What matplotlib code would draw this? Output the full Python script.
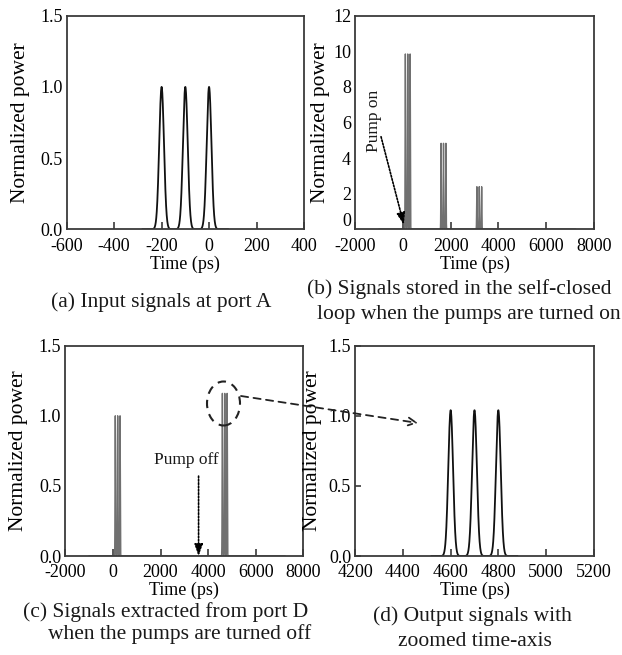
import numpy as np
import matplotlib
matplotlib.use("Agg")
import matplotlib.pyplot as plt
from matplotlib.patches import Ellipse, FancyArrowPatch
from matplotlib.transforms import ScaledTranslation

plt.rcParams['font.family'] = ['Liberation Serif', 'DejaVu Serif']
plt.rcParams['text.color'] = '#1a1a1a'
plt.rcParams['axes.unicode_minus'] = False

# pulse centres (ps) and peak powers for each panel
pulse_width = 10.0
t_a = [-200, -100, 0]
amp_a = [1.0, 1.0, 1.0]
t_b = [100, 200, 300, 1600, 1700, 1800, 3100, 3200, 3300]
amp_b = [9.85, 9.85, 9.85, 4.83, 4.83, 4.83, 2.39, 2.39, 2.39]
t_c = [100, 200, 300, 4600, 4700, 4800]
amp_c = [1.0, 1.0, 1.0, 1.16, 1.16, 1.16]
t_d = [4600, 4700, 4800]
amp_d = [1.04, 1.04, 1.04]

# time windows of the traces
win_a = (-280, 80)
win_bc = (-1000, 7230)
win_d = (4520, 4880)

pump_on_t = 40
pump_off_t = 3600

spine_col = '#3a3a3a'


def trace(win, centres, amps, step=0.5):
    t = np.arange(win[0], win[1], step)
    p = np.zeros_like(t)
    for c, a in zip(centres, amps):
        p += a * np.exp(-0.5 * ((t - c) / pulse_width) ** 2)
    return t, p


def style(ax, xt, yt, ylabels, ylx, ytick_len=0):
    ax.set_xlim(xt[0], xt[-1])
    ax.set_ylim(yt[0], yt[-1])
    ax.set_xticks(xt)
    ax.set_yticks(yt)
    ax.set_yticklabels(ylabels)
    ax.tick_params(axis='x', direction='in', length=5, width=1.2,
                   color=spine_col, labelsize=13, pad=6, top=False)
    ax.tick_params(axis='y', direction='in', length=ytick_len, width=1.2,
                   color=spine_col, labelsize=13, pad=3, right=False)
    for s in ax.spines.values():
        s.set_color(spine_col)
        s.set_linewidth(1.3)
    ax.set_xlabel('Time (ps)', fontsize=13)
    ax.xaxis.set_label_coords(0.5, -0.122)
    ax.set_ylabel('Normalized power', fontsize=15.5)
    ax.yaxis.set_label_coords(ylx, 0.5)


fig = plt.figure(figsize=(6.22, 6.55), dpi=100)

ax_a = fig.add_axes([0.1072, 0.650, 0.3815, 0.326])
ax_b = fig.add_axes([0.5712, 0.650, 0.3833, 0.326])
ax_c = fig.add_axes([0.1050, 0.1511, 0.3826, 0.3211])
ax_d = fig.add_axes([0.5712, 0.1511, 0.3833, 0.3211])

p_ticks = [0.0, 0.5, 1.0, 1.5]
p_labels = ['0.0', '0.5', '1.0', '1.5']

# (a) input pulses
t, p = trace(win_a, t_a, amp_a)
ax_a.plot(t, p, color='#111111', lw=1.3)
style(ax_a, np.arange(-600, 401, 200), p_ticks, p_labels, -0.155)

# (b) pulses circulating in the loop
t, p = trace(win_bc, t_b, amp_b)
ax_b.plot(t, p, color='#707070', lw=1.0)
b_ticks = np.arange(0, 13, 2)
style(ax_b, np.arange(-2000, 8001, 2000), b_ticks,
      [str(v) for v in b_ticks], -0.105)
# the "0" label sits a little above the corner
zero_lab = ax_b.yaxis.get_major_ticks()[0].label1
zero_lab.set_transform(zero_lab.get_transform()
                       + ScaledTranslation(0, 7 / 72, fig.dpi_scale_trans))
ax_b.text(-1200, 6.1, 'Pump on', rotation=90, ha='center', va='center',
          fontsize=12.5)
ax_b.annotate('', xy=(pump_on_t, 0.25), xytext=(-920, 5.2),
              arrowprops=dict(arrowstyle='-|>,head_length=0.7,head_width=0.25',
                              ls=(0, (1, 1)), lw=1.2, color='k',
                              shrinkA=0, shrinkB=0))

# (c) pulses extracted at port D
t, p = trace(win_bc, t_c, amp_c)
ax_c.plot(t, p, color='#707070', lw=1.0)
style(ax_c, np.arange(-2000, 8001, 2000), p_ticks, p_labels, -0.156)
ax_c.text(3100, 0.685, 'Pump off', ha='center', va='center', fontsize=12.5)
ax_c.annotate('', xy=(pump_off_t, 0.0), xytext=(pump_off_t, 0.57),
              arrowprops=dict(arrowstyle='-|>,head_length=0.7,head_width=0.25',
                              ls=(0, (1, 1)), lw=1.2, color='k',
                              shrinkA=0, shrinkB=0))

# (d) output pulses, zoomed
t, p = trace(win_d, t_d, amp_d)
ax_d.plot(t, p, color='#111111', lw=1.3)
style(ax_d, np.arange(4200, 5201, 200), p_ticks, p_labels, -0.14, ytick_len=4)

# dashed circle around the output group and the zoom arrow
W, H = 622.0, 655.0
ell = Ellipse((223.5 / W, 1 - 403.5 / H), 33 / W, 44 / H,
              transform=fig.transFigure, fill=False, ls=(0, (4, 3)),
              lw=1.5, color='#222222')
fig.add_artist(ell)
arr = FancyArrowPatch((241 / W, 1 - 396 / H), (418 / W, 1 - 423 / H),
                      transform=fig.transFigure, arrowstyle='->',
                      mutation_scale=14, ls=(0, (4, 3)), lw=1.3,
                      color='#222222', shrinkA=0, shrinkB=0)
fig.add_artist(arr)

# captions
cap = dict(ha='center', va='center', fontsize=15.5)
fig.text(161 / W, 1 - 301.7 / H, '(a) Input signals at port A', **cap)
fig.text(459 / W, 1 - 289 / H, '(b) Signals stored in the self-closed', **cap)
fig.text(469 / W, 1 - 315 / H, 'loop when the pumps are turned on', **cap)
fig.text(166 / W, 1 - 611.7 / H, '(c) Signals extracted from port D', **cap)
fig.text(180 / W, 1 - 634 / H, 'when the pumps are turned off', **cap)
fig.text(472 / W, 1 - 616 / H, '(d) Output signals with', **cap)
fig.text(474.5 / W, 1 - 641 / H, 'zoomed time-axis', **cap)

fig.savefig('out.png', dpi=100)
